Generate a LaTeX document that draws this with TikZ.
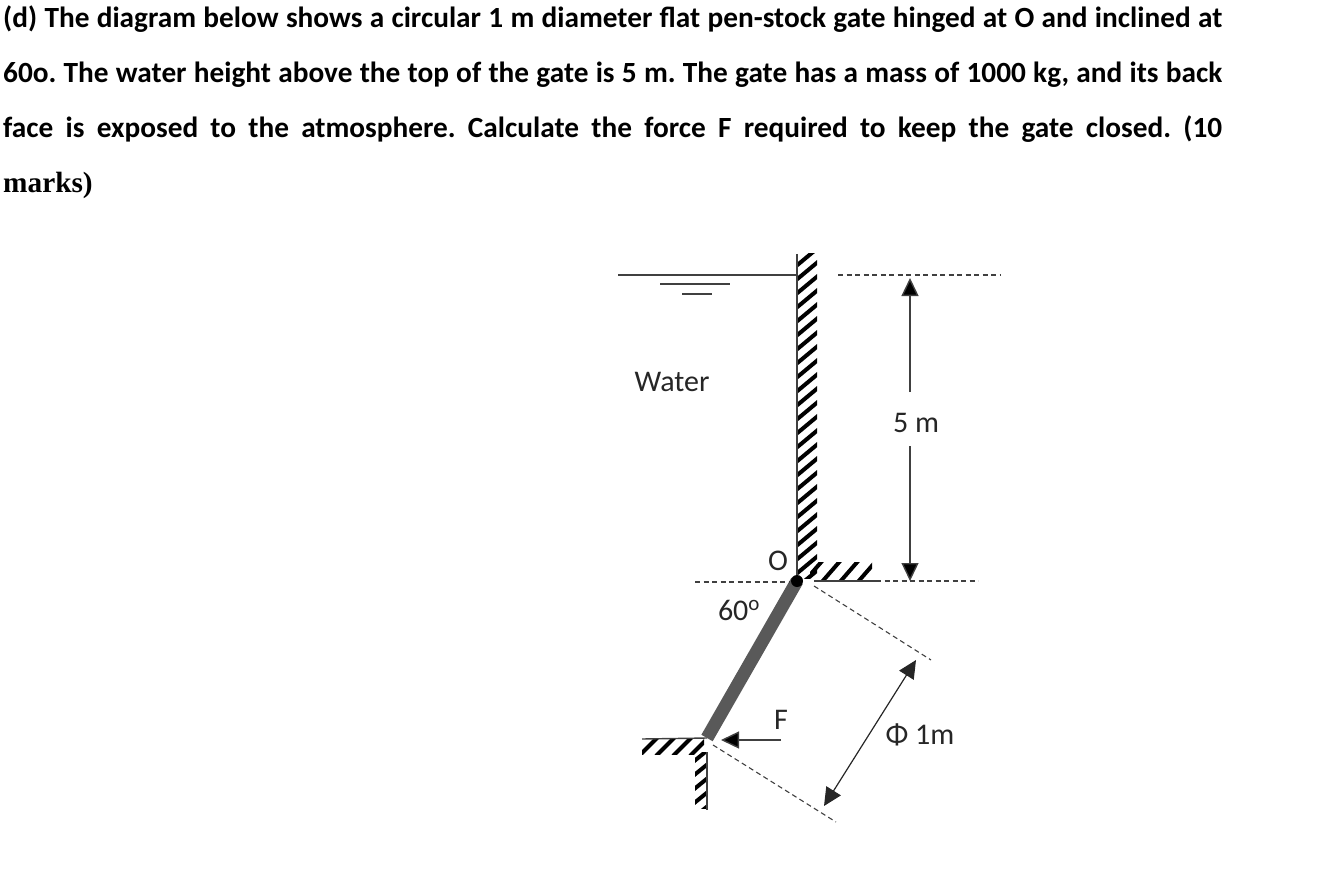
\documentclass[tikz,border=0pt]{standalone}
\usepackage{fontspec}
\setmainfont{Carlito}
\newfontfamily\serifb{Liberation Serif}
\usetikzlibrary{arrows.meta}
\definecolor{lg}{HTML}{404040}
\definecolor{gate}{HTML}{595959}
\tikzset{
  para/.style={anchor=base west,inner sep=0pt,font=\fontsize{29.3}{29}\selectfont\bfseries},
  lab/.style={inner sep=0pt,text=black!85,font=\fontsize{30}{30}\selectfont},
  dashl/.style={draw=lg,line width=1.2pt,dash pattern=on 5pt off 3.5pt},
  dashs/.style={draw=lg,line width=1.1pt,dash pattern=on 5pt off 3.5pt},
  wall/.style={draw=lg,line width=1.4pt},
  hatchl/.style={line width=4pt,black},
  dim/.style={draw=black!85,line width=1.2pt,{Triangle[length=18pt,width=17pt]}-{Triangle[length=18pt,width=17pt]}},
  dimone/.style={draw=lg,line width=1.4pt,-{Triangle[length=18pt,width=17pt,fill=black]}},
}
\begin{document}
\frenchspacing
\begin{tikzpicture}[x=1pt,y=-1pt]
\useasboundingbox (0,0) rectangle (1340,893);
\node[para] (l1) at (3,27.5) {\makebox[1219pt][s]{(d) The diagram below shows a circular 1 m diameter flat pen-stock gate hinged at O and inclined at}};
\node[para] (l2) at (3,82.5) {\makebox[1219pt][s]{60o. The water height above the top of the gate is 5 m. The gate has a mass of 1000 kg, and its back}};
\node[para] (l3) at (3,137.5) {\makebox[1219pt][s]{face is exposed to the atmosphere. Calculate the force F required to keep the gate closed. (10}};
\node[para,font=\fontsize{29.3}{29}\selectfont\serifb\bfseries] (l4) at (3,192.5) {marks)};
% tall wall hatching
\begin{scope}
\clip (797,254) rectangle (817,578);
\foreach \y in {250,264,...,610} \draw[hatchl] (795,\y+17) -- (819,\y-3);
\end{scope}
\begin{scope}
\clip (810,562) rectangle (872,580);
\foreach \x in {816,834,852,870} \draw[hatchl] (\x-13,583) -- (\x+7,560);
\end{scope}
\begin{scope}
\clip (642,739) rectangle (704,754);
\foreach \x in {650,667,684,701} \draw[hatchl] (\x-11,756) -- (\x+8,737);
\end{scope}
\begin{scope}
\clip (695,752) rectangle (707,808);
\foreach \y in {752,766,780,794,808} \draw[hatchl] (693,\y+10) -- (709,\y-3);
\end{scope}
\coordinate (wtop) at (797,254);
\coordinate (O) at (797,581);
\coordinate (G) at (707,738);
\coordinate (slabR) at (876,581);
\coordinate (lslabL) at (642,739);
\coordinate (lwallB) at (707,810);
\coordinate (lwallT) at (707,752);
\coordinate (surfL) at (618,275);
\coordinate (surfR) at (797,275);
\draw[wall] (wtop) -- (O);
\draw[wall] (814,581) -- (slabR);
\draw[wall] (lslabL) -- (G);
\draw[wall] (lwallT) -- (lwallB);
\draw[wall] (surfL) -- (surfR);
\coordinate (a1) at (660,284); \coordinate (a2) at (730,284);
\coordinate (b1) at (682,294); \coordinate (b2) at (712,294);
\draw[wall,line width=1.2pt] (a1) -- (a2);
\draw[wall,line width=1.2pt] (b1) -- (b2);
% gate
\draw[gate,line width=13pt] (O) -- (G);
\fill[black] (O) circle (6pt);
% dashed
\coordinate (d1a) at (838,275); \coordinate (d1b) at (1000,275);
\coordinate (d2a) at (695,582); \coordinate (d2b) at (790,582);
\coordinate (d3a) at (876,581); \coordinate (d3b) at (978,581);
\coordinate (d4a) at (814,586); \coordinate (d4b) at (931,660);
\coordinate (d5a) at (713,745); \coordinate (d5b) at (836,822);
\draw[dashl] (d1a) -- (d1b);
\draw[dashl] (d2a) -- (d2b);
\draw[dashl] (d3a) -- (d3b);
\draw[dashs] (d4a) -- (d4b);
\draw[dashs] (d5a) -- (d5b);
% labels
\node[lab] (water) at (672,382) {Water};
\node[lab] (five) at (916,423) {5 m};
\node[lab] (ol) at (778,561) {O};
\node[lab] (ang) at (739,610) {60$^{\mathrm{o}}$};
\node[lab] (fl) at (781,720) {F};
\node[lab] (phi) at (920,735) {Φ\ 1m};
% dimensions
\coordinate (t5) at (910,278); \coordinate (b5) at (910,581);
\draw[dimone] (910,392) -- (t5);
\draw[dimone] (910,446) -- (b5);
\coordinate (p1) at (916,660); \coordinate (p2) at (824,806);
\draw[dim] (p2) -- (p1);
\coordinate (f1) at (781,740); \coordinate (f2) at (721,740);
\draw[dimone] (f1) -- (f2);
\end{tikzpicture}
\end{document}
